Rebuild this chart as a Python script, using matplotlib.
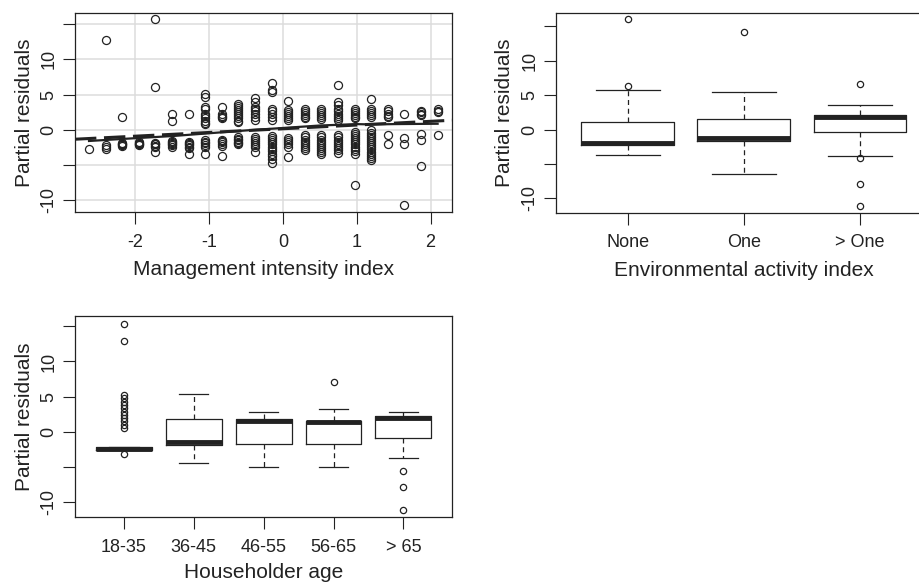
import numpy as np
import matplotlib
matplotlib.use('Agg')
import matplotlib.pyplot as plt

plt.rcParams['font.family'] = ['Liberation Sans', 'DejaVu Sans']

# 管理强度指数 - 偏残差散点 (each x level -> its residuals)
mi_levels = [-2.63, -2.405, -2.18, -1.955, -1.73, -1.505, -1.28, -1.055, -0.83, -0.605, -0.38,
             -0.155, 0.07, 0.295, 0.52, 0.745, 0.97, 1.195, 1.42, 1.645, 1.87, 2.095]
mi_resid = [
    [-2.75],
    [12.8, -2.2, -2.45, -2.75],
    [1.8, -1.9, -2.0, -2.1, -2.2, -2.3],
    [-1.8, -1.9, -2.0, -2.1, -2.2],
    [15.7, 6.1, -1.9, -2.0, -2.1, -2.3, -2.4, -3.1],
    [2.2, 1.3, -1.6, -1.8, -1.9, -2.0, -2.2, -2.4],
    [2.2, -1.7, -1.9, -2.0, -2.2, -2.4, -2.6, -3.4],
    [5.1, 4.7, 3.3, 3.0, 2.2, 1.9, 1.6, 1.3, 1.0, 0.8, -1.5, -1.7, -1.9, -2.2, -2.5, -3.5],
    [3.3, 2.2, 2.0, 1.8, 1.6, -1.4, -1.6, -1.8, -2.0, -2.3, -3.7],
    [3.7, 3.4, 3.1, 2.8, 2.5, 2.2, 1.9, 1.6, 1.3, 1.1, -1.1, -1.3, -1.5, -1.7, -1.9, -2.1],
    [4.5, 4.0, 3.3, 3.0, 2.6, 2.2, 1.8, 1.4, -1.1, -1.3, -1.6, -1.9, -2.2, -2.5, -3.1],
    [6.6, 5.6, 5.4, 2.9, 2.6, 2.2, 1.8, 1.4, -0.9, -1.2, -1.5, -1.8, -2.1, -2.4, -2.7, -3.0,
     -3.4, -3.8, -4.2, -4.8],
    [4.1, 2.8, 2.5, 2.2, 1.9, 1.6, 1.4, -1.2, -1.5, -1.8, -2.1, -2.4, -3.9],
    [3.0, 2.7, 2.4, 2.1, 1.8, 1.6, -0.8, -1.1, -1.4, -1.7, -2.0, -2.3, -2.6, -2.9],
    [3.0, 2.7, 2.4, 2.1, 1.8, 1.5, -0.8, -1.1, -1.4, -1.7, -2.0, -2.3, -2.6, -2.9, -3.2, -3.5],
    [6.3, 4.0, 3.5, 2.9, 2.6, 2.3, 2.0, 1.7, 1.4, -0.8, -1.1, -1.4, -1.7, -2.0, -2.3, -2.6,
     -2.9, -3.3],
    [3.0, 2.7, 2.4, 2.1, 1.8, 1.6, -0.3, -0.6, -0.9, -1.2, -1.5, -1.8, -2.1, -2.4, -2.7, -3.0,
     -3.4, -7.8],
    [4.3, 3.0, 2.7, 2.4, 2.1, 1.8, -0.1, -0.4, -0.7, -1.0, -1.3, -1.6, -1.9, -2.2, -2.5, -2.8,
     -3.1, -3.4, -3.7, -4.0, -4.3],
    [2.9, 2.6, 2.3, 2.0, 1.8, -0.7, -2.1],
    [2.2, -1.2, -2.1, -10.7],
    [2.7, 2.5, 2.3, 2.1, -0.6, -1.5, -5.2],
    [2.9, 2.7, 2.5, -0.7],
]

# 平滑线 & 线性拟合线
smooth_x = [-2.63, -2.0, -1.5, -1.0, -0.5, 0.0, 0.5, 1.0, 1.2, 1.5, 2.095]
smooth_y = [-1.6, -1.2, -0.9, -0.5, -0.1, 0.25, 0.6, 0.8, 0.75, 0.8, 0.85]
fit_x = [-2.82, 2.29]
fit_y = [-1.35, 1.35]

# 环境活动指数 箱线图
env_labels = ['None', 'One', '> One']
env_med = [-1.9, -1.2, 1.85]
env_q1 = [-2.3, -1.7, -0.4]
env_q3 = [1.05, 1.5, 2.1]
env_lo = [-3.7, -6.4, -3.9]
env_hi = [5.7, 5.5, 3.6]
env_out = [[16.1, 6.4], [14.2], [6.6, -4.2, -7.9, -11.1]]

# 户主年龄 箱线图
age_labels = ['18-35', '36-45', '46-55', '56-65', '> 65']
age_med = [-2.4, -1.45, 1.55, 1.45, 2.05]
age_q1 = [-2.6, -1.9, -1.65, -1.65, -0.8]
age_q3 = [-2.15, 1.85, 1.85, 1.6, 2.3]
age_lo = [-2.6, -4.35, -4.9, -4.9, -3.7]
age_hi = [-2.15, 5.35, 2.9, 3.3, 2.9]
age_out = [[15.3, 12.95, 5.25, 4.8, 4.3, 3.85, 3.35, 2.9, 2.4, 1.95, 1.5, 1.0, 0.55, -3.1],
           [], [], [7.15], [-5.55, -7.8, -11.1]]

ink = '#222222'
ytick_pos = [-10, -5, 0, 5, 10, 15]
ytick_lab = ['-10', '', '0', '5', '10', '']


def style_axes(ax):
    for s in ax.spines.values():
        s.set_linewidth(0.9)
        s.set_color(ink)
    ax.tick_params(direction='out', length=8.5, width=0.8, colors=ink, labelsize=13)
    ax.tick_params(axis='x', pad=7)
    ax.tick_params(axis='y', pad=4)
    ax.set_yticks(ytick_pos)
    ax.set_yticklabels(ytick_lab, rotation=90, va='center')
    ax.set_ylabel('Partial residuals', fontsize=15, color=ink, labelpad=5)


def draw_box(ax, labels, med, q1, q3, lo, hi, out, capw):
    stats = []
    for i in range(len(labels)):
        stats.append(dict(med=med[i], q1=q1[i], q3=q3[i], whislo=lo[i], whishi=hi[i],
                          fliers=out[i], label=labels[i]))
    ax.bxp(stats, widths=0.8, capwidths=capw, showfliers=True,
           boxprops=dict(color=ink, linewidth=0.9),
           medianprops=dict(color=ink, linewidth=3.5, solid_capstyle='butt'),
           whiskerprops=dict(color=ink, linewidth=0.9, linestyle=(0, (4, 3))),
           capprops=dict(color=ink, linewidth=0.9),
           flierprops=dict(marker='o', markersize=4.5, markerfacecolor='none',
                           markeredgecolor=ink, markeredgewidth=0.9))


fig = plt.figure(figsize=(9.2, 5.83), dpi=100)

# --- 左上: 散点 ---
ax1 = fig.add_axes([75 / 920, 1 - 212 / 583, 377 / 920, 199 / 583])
mx = []
my = []
for lv, vals in zip(mi_levels, mi_resid):
    for v in vals:
        mx.append(lv)
        my.append(v)
for g in [-2, -1, 0, 1, 2]:
    ax1.axvline(g, color='#dcdcdc', linewidth=1.1, zorder=0)
for g in ytick_pos:
    ax1.axhline(g, color='#dcdcdc', linewidth=1.1, zorder=0)
ax1.plot(mx, my, 'o', markersize=5.8, markerfacecolor='none', markeredgecolor=ink,
         markeredgewidth=0.9, zorder=2)
ax1.plot(fit_x, fit_y, color=ink, linewidth=2.2, linestyle=(0, (7, 2.5)), zorder=3)
ax1.plot(smooth_x, smooth_y, color=ink, linewidth=1.6, zorder=3)
ax1.set_xlim(-2.82, 2.29)
ax1.set_ylim(-11.7, 16.6)
ax1.set_xticks([-2, -1, 0, 1, 2])
ax1.set_xticklabels(['-2', '-1', '0', '1', '2'])
style_axes(ax1)
ax1.set_xlabel('Management intensity index', fontsize=15, color=ink, labelpad=7)

# --- 右上: 环境活动指数 ---
ax2 = fig.add_axes([555.7 / 920, 1 - 212.7 / 583, 376.3 / 920, 200 / 583])
draw_box(ax2, env_labels, env_med, env_q1, env_q3, env_lo, env_hi, env_out, 0.55)
ax2.set_xlim(0.38, 3.62)
ax2.set_ylim(-12.1, 17.0)
style_axes(ax2)
ax2.set_xlabel('Environmental activity index', fontsize=15, color=ink, labelpad=7)

# --- 左下: 户主年龄 ---
ax3 = fig.add_axes([75 / 920, 1 - 517.3 / 583, 377.3 / 920, 201.3 / 583])
draw_box(ax3, age_labels, age_med, age_q1, age_q3, age_lo, age_hi, age_out, 0.42)
ax3.set_xlim(0.3, 5.7)
ax3.set_ylim(-12.1, 16.45)
style_axes(ax3)
ax3.set_xlabel('Householder age', fontsize=15, color=ink, labelpad=5)

fig.savefig('out.png', dpi=100)
